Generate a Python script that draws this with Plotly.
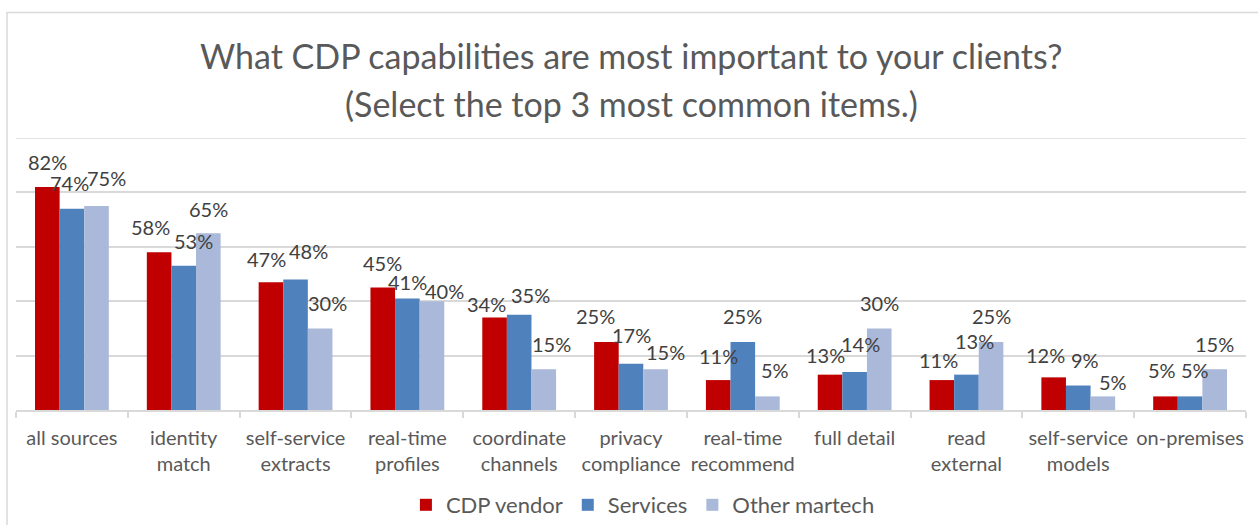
import plotly.graph_objects as go

# Survey answers: share of each respondent group naming a capability in its top 3
categories = [
    "all sources", "identity<br>match", "self-service<br>extracts", "real-time<br>profiles",
    "coordinate<br>channels", "privacy<br>compliance", "real-time<br>recommend", "full detail",
    "read<br>external", "self-service<br>models", "on-premises",
]
cdp_vendor = [82, 58, 47, 45, 34, 25, 11, 13, 11, 12, 5]
services = [74, 53, 48, 41, 35, 17, 25, 14, 13, 9, 5]
other_martech = [75, 65, 30, 40, 15, 15, 5, 30, 25, 5, 15]

series_names = ["CDP vendor", "Services", "Other martech"]
series_values = [cdp_vendor, services, other_martech]
series_colors = ["#C00000", "#4F81BD", "#AAB9D9"]

# Pixel nudges for the value labels (x right, y up from bar top), per series
label_dx = [
    [0, -9, -4, 0, -8, -11, 0, -5, -3, -8, -3],
    [-2, 10, 13, 0, 11, 0, 0, 6, 8, 7, 5],
    [10, 0, 7, 13, 8, 10, 8, 0, 0, 10, 0],
]
label_dy = [
    [25, 25, 23, 25, 14, 26, 24, 20, 20, 22, 26],
    [26, 25, 28, 16, 20, 29, 26, 28, 34, 26, 26],
    [28, 24, 25, 10, 25, 17, 26, 25, 26, 14, 25],
]

BAR_GAP = 0.34
FONT = "Lato"
GRID = "#D9D9D9"

fig = go.Figure()
for name, vals, color in zip(series_names, series_values, series_colors):
    fig.add_trace(go.Bar(
        name=name, x=categories, y=vals,
        marker=dict(color=color, line=dict(width=0)),
        hoverinfo="skip",
    ))

bar_w = (1 - BAR_GAP) / len(series_values)
annotations = []
for s, vals in enumerate(series_values):
    offset = (s - 1) * bar_w
    for i, v in enumerate(vals):
        annotations.append(dict(
            x=i + offset, y=v, xref="x", yref="y",
            text=f"{v}%", showarrow=False,
            xanchor="center", yanchor="middle",
            xshift=label_dx[s][i], yshift=label_dy[s][i],
            font=dict(family=FONT, size=20, color="#404040"),
        ))

# Two-line chart title
annotations.append(dict(
    x=0.5, y=(410 - 56) / 272, xref="paper", yref="paper",
    text="What CDP capabilities are most important to your clients?",
    showarrow=False, xanchor="center", yanchor="middle",
    font=dict(family=FONT, size=34, color="#595959"),
))
annotations.append(dict(
    x=0.5, y=(410 - 103) / 272, xref="paper", yref="paper",
    text="(Select the top 3 most common items.)",
    showarrow=False, xanchor="center", yanchor="middle",
    font=dict(family=FONT, size=34, color="#595959"),
))

fig.update_layout(
    width=1258, height=525,
    margin=dict(l=16, r=12, t=138, b=115, autoexpand=False),
    paper_bgcolor="white", plot_bgcolor="white",
    barmode="group", bargap=BAR_GAP, bargroupgap=0,
    showlegend=True,
    legend=dict(
        orientation="h", x=0.317, xanchor="left",
        y=(410 - 505) / 272, yanchor="middle",
        font=dict(family=FONT, size=22, color="#595959"),
        itemclick=False, itemdoubleclick=False,
    ),
    annotations=annotations,
    shapes=[
        # outer chart frame
        dict(type="rect", xref="paper", yref="paper",
             x0=-9 / 1230, x1=1.02, y0=-0.5, y1=(410 - 12.5) / 272,
             line=dict(color=GRID, width=1.5), layer="below"),
        # top gridline at 100%
        dict(type="line", xref="paper", yref="y", x0=0, x1=1, y0=100, y1=100,
             line=dict(color=GRID, width=1.5), layer="below"),
    ],
)
fig.update_xaxes(
    type="category", tickson="boundaries", tickangle=0, automargin=False,
    ticks="outside", ticklen=6, tickcolor=GRID, tickwidth=1.5,
    showgrid=False, zeroline=False,
    showline=True, linecolor=GRID, linewidth=1.5,
    ticklabelstandoff=9,
    tickfont=dict(family=FONT, size=20, color="#595959"),
    fixedrange=True,
)
fig.update_yaxes(
    range=[0, 100], dtick=20, showticklabels=False, automargin=False,
    showgrid=True, gridcolor=GRID, gridwidth=1.5,
    zeroline=False, fixedrange=True,
)

fig.write_html("out.html", config={"displayModeBar": False})
